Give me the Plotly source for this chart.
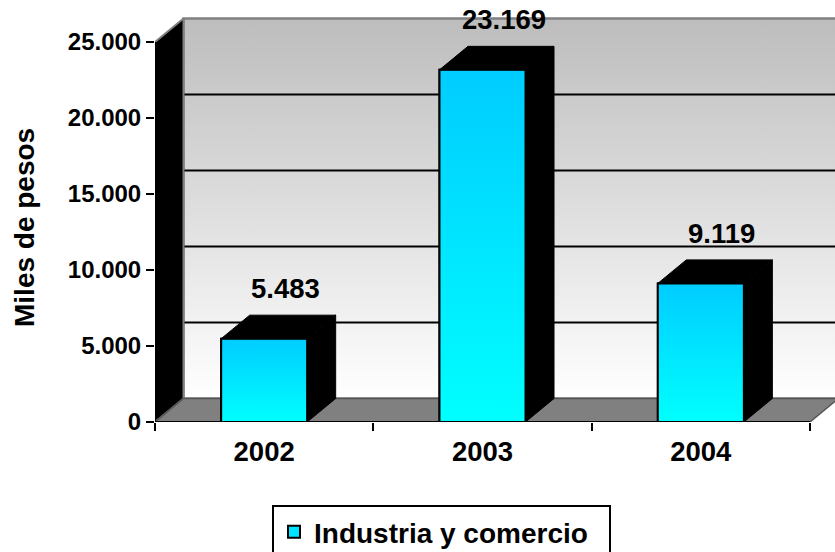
import plotly.graph_objects as go

# ---------------- data ----------------
categories = ["2002", "2003", "2004"]
values = [5483, 23169, 9119]
series_name = "Industria y comercio"
y_tick_values = [0, 5000, 10000, 15000, 20000, 25000]
y_title = "Miles de pesos"

# ---------------- layout constants ----------------
FIG_W, FIG_H = 835, 552
M_L, M_R, M_T, M_B = 155, 0, 15, 130
PLOT_W = FIG_W - M_L - M_R
PLOT_H = FIG_H - M_T - M_B
FRONT_W_PX = 655          # width of the front plane (category area)
FRONT_H_PX = 380          # height of the front plane (0 .. top tick)
DEPTH_X_PX, DEPTH_Y_PX = 28.5, 23.5
BAR_W = 0.394

n = len(categories)
idx = list(range(n))
y_top_tick = y_tick_values[-1]
x_rng = [-0.5, -0.5 + n * PLOT_W / FRONT_W_PX]
y_rng = [0, y_top_tick * PLOT_H / FRONT_H_PX]
DX = DEPTH_X_PX * (x_rng[1] - x_rng[0]) / PLOT_W
DY = DEPTH_Y_PX * (y_rng[1] - y_rng[0]) / PLOT_H

FONT = "Liberation Sans, Arial, sans-serif"
x0, x1 = -0.5, n - 0.5

fig = go.Figure()

def poly(xs, ys, fill, line_color, line_w, xa="x", ya="y", **kw):
    fig.add_trace(go.Scatter(
        x=xs + [xs[0]], y=ys + [ys[0]], mode="lines", fill="toself",
        fillcolor=fill, line=dict(color=line_color, width=line_w),
        hoverinfo="skip", showlegend=False, xaxis=xa, yaxis=ya, **kw))

# back wall with vertical gradient
bx0, bx1 = x0 + DX, x1 + DX
fig.add_trace(go.Scatter(
    x=[bx0, bx1, bx1, bx0, bx0], y=[DY, DY, y_top_tick + DY, y_top_tick + DY, DY],
    mode="lines", fill="toself",
    fillgradient=dict(type="vertical", colorscale=[[0, "#FFFFFF"], [1, "#BDBDBD"]]),
    line=dict(color="#808080", width=2.5), hoverinfo="skip", showlegend=False))

# grid lines on the back wall
for v in y_tick_values[1:-1]:
    fig.add_trace(go.Scatter(x=[bx0, bx1], y=[v + DY, v + DY], mode="lines",
                             line=dict(color="black", width=2),
                             hoverinfo="skip", showlegend=False))

# left side wall (black)
poly([x0, x0, x0 + DX, x0 + DX], [0, y_top_tick, y_top_tick + DY, DY],
     "black", "#808080", 2)

# floor
poly([x0, x1, x1 + DX, x0 + DX], [0, 0, DY, DY], "#808080", "#555555", 1.5)

# front axis lines
fig.add_trace(go.Scatter(x=[x0, x0], y=[0, y_top_tick], mode="lines",
                         line=dict(color="black", width=2),
                         hoverinfo="skip", showlegend=False))
fig.add_trace(go.Scatter(x=[x0, x1], y=[0, 0], mode="lines",
                         line=dict(color="black", width=2),
                         hoverinfo="skip", showlegend=False))

# bars (front faces) on overlay axes so they sit above the walls
fig.add_trace(go.Bar(
    x=idx, y=values, width=BAR_W, name=series_name,
    marker=dict(color="#00E5FF", line=dict(color="black", width=2)),
    xaxis="x2", yaxis="y2", hoverinfo="skip"))

for i, v in zip(idx, values):
    xl, xr = i - BAR_W / 2, i + BAR_W / 2
    # gradient on the front face
    fig.add_trace(go.Scatter(
        x=[xl, xr, xr, xl, xl], y=[0, 0, v, v, 0], mode="lines", fill="toself",
        fillgradient=dict(type="vertical", colorscale=[[0, "#00FFFF"], [1, "#00CCFF"]]),
        line=dict(color="black", width=2), hoverinfo="skip", showlegend=False,
        xaxis="x2", yaxis="y2"))
    # right side face
    poly([xr, xr + DX, xr + DX, xr], [0, DY, v + DY, v], "black", "black", 1,
         xa="x2", ya="y2")
    # top face
    poly([xl, xl + DX, xr + DX, xr], [v, v + DY, v + DY, v], "black", "black", 1,
         xa="x2", ya="y2")

# value labels
for i, v in zip(idx, values):
    fig.add_annotation(x=i, y=v, xref="x2", yref="y2",
                       text=f"{v:,}".replace(",", "."), showarrow=False,
                       xshift=21, yshift=50, yanchor="middle",
                       font=dict(family=FONT, size=27.5, color="black", weight="bold"))

# y axis title
fig.add_annotation(xref="paper", yref="paper", x=(25 - M_L) / PLOT_W,
                   y=(FIG_H - M_B - 228) / PLOT_H, text=y_title, textangle=-90,
                   showarrow=False, xanchor="center", yanchor="middle",
                   font=dict(family=FONT, size=28, color="black", weight="bold"))

fig.update_layout(
    width=FIG_W, height=FIG_H,
    margin=dict(l=M_L, r=M_R, t=M_T, b=M_B, pad=0),
    paper_bgcolor="white", plot_bgcolor="rgba(0,0,0,0)",
    separators=",.",
    showlegend=True,
    legend=dict(orientation="h", x=(272 - M_L) / PLOT_W, xanchor="left",
                yref="container", y=1 - 505 / FIG_H, yanchor="top",
                entrywidth=290,
                bordercolor="black", borderwidth=2, bgcolor="white",
                font=dict(family=FONT, size=28, color="black", weight="bold")),
    xaxis=dict(range=x_rng, tickvals=idx, ticktext=categories, ticks="",
               ticklabelstandoff=10,
               showgrid=False, zeroline=False, showline=False,
               tickfont=dict(family=FONT, size=27.5, color="black", weight="bold"),
               minor=dict(tickvals=[k - 0.5 for k in range(n + 1)], ticks="outside",
                          ticklen=8, tickwidth=2, tickcolor="black", showgrid=False)),
    yaxis=dict(range=y_rng, tickvals=y_tick_values, tickformat=",d", ticks="outside",
               ticklen=8, tickwidth=2, tickcolor="black",
               showgrid=False, zeroline=False, showline=False,
               tickfont=dict(family=FONT, size=24, color="black", weight="bold")),
    xaxis2=dict(range=x_rng, overlaying="x", visible=False),
    yaxis2=dict(range=y_rng, overlaying="y", visible=False),
)

fig.write_html("out.html", config={"displayModeBar": False},
               post_script="document.body.style.margin='0';")
